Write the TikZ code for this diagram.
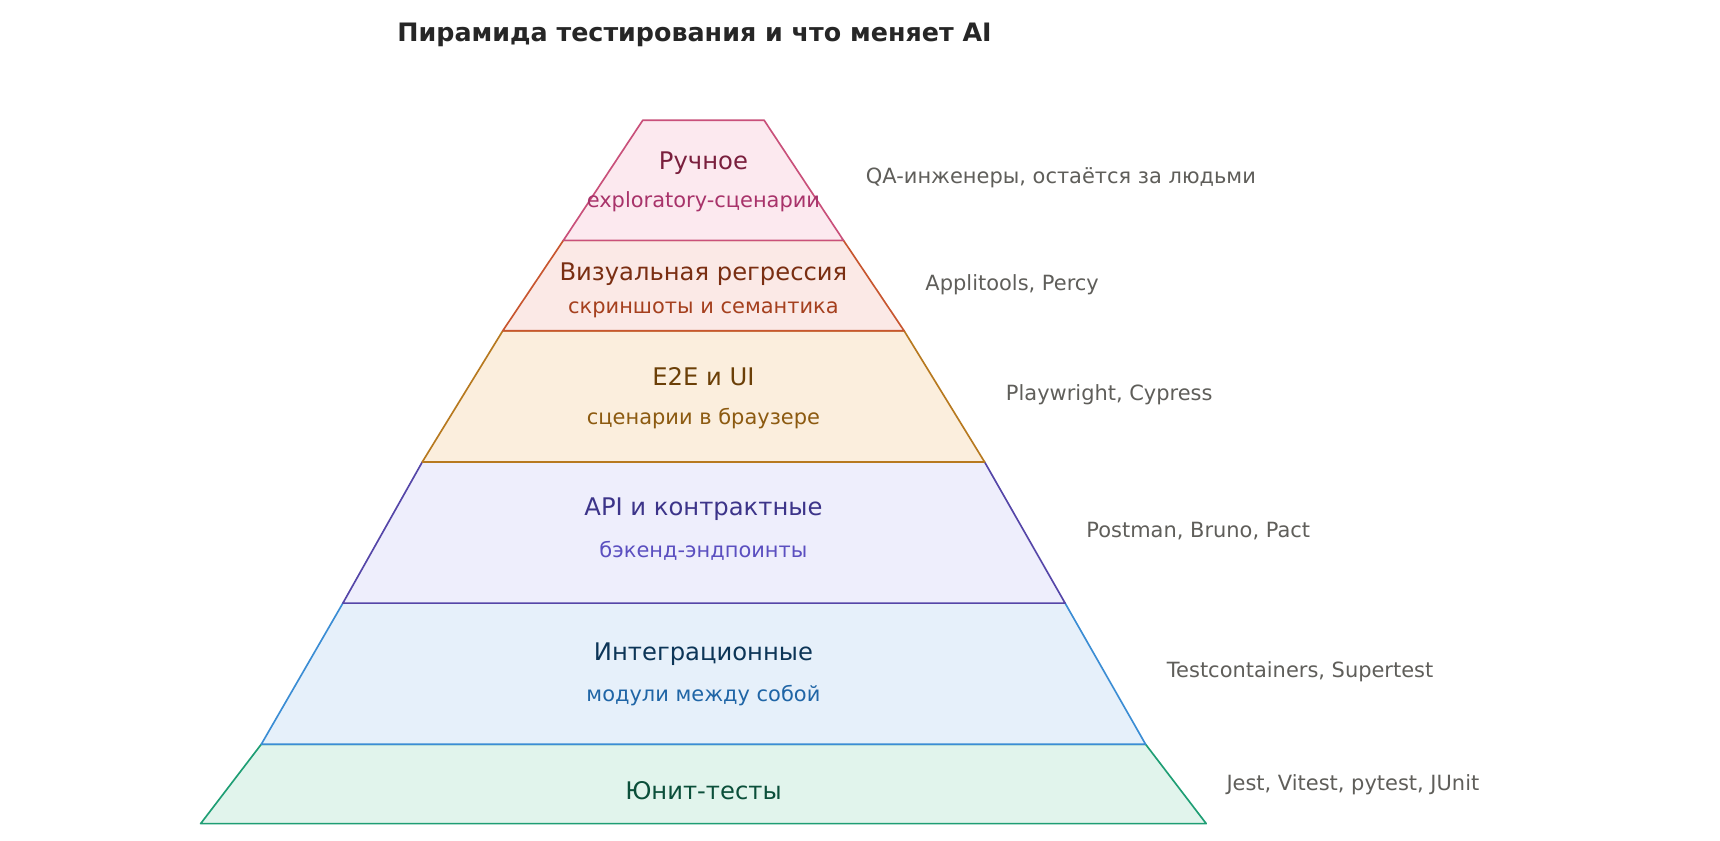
\documentclass[tikz,border=0pt]{standalone}
\usepackage{fontspec}
\setmainfont{DejaVu Sans}
\begin{document}
\begin{tikzpicture}[x=0.5pt,y=-0.5pt,
  ttl/.style={font=\fontsize{11}{13}\selectfont},
  sub/.style={font=\fontsize{9.5}{11}\selectfont},
  side/.style={font=\fontsize{9.5}{11}\selectfont,text=sidec,anchor=west,inner sep=0},
  lay/.style={line width=0.75pt, line join=round}]
\definecolor{sidec}{HTML}{5F5E5A}
\definecolor{f1}{HTML}{FCE9EF}\definecolor{s1}{HTML}{C9507A}\definecolor{t1}{HTML}{7A1F3D}\definecolor{u1}{HTML}{A8336A}
\definecolor{f2}{HTML}{FBE9E6}\definecolor{s2}{HTML}{C8562F}\definecolor{t2}{HTML}{7A2E12}\definecolor{u2}{HTML}{A5401E}
\definecolor{f3}{HTML}{FBEEDD}\definecolor{s3}{HTML}{B7791F}\definecolor{t3}{HTML}{6B3F07}\definecolor{u3}{HTML}{8C5A10}
\definecolor{f4}{HTML}{EEEEFC}\definecolor{s4}{HTML}{5546A8}\definecolor{t4}{HTML}{3C3489}\definecolor{u4}{HTML}{5B4FC0}
\definecolor{f5}{HTML}{E6F0FA}\definecolor{s5}{HTML}{3B8DD4}\definecolor{t5}{HTML}{0C3557}\definecolor{u5}{HTML}{1F65A6}
\definecolor{f6}{HTML}{E1F4EC}\definecolor{s6}{HTML}{1E9E74}\definecolor{t6}{HTML}{0B4F3A}
\useasboundingbox[fill=white] (0,0) rectangle (1560,762);
\node[font=\fontsize{11.5}{13}\selectfont\bfseries,text=black!85,anchor=west,inner sep=0] (title) at (360,32) {Пирамида тестирования и что меняет AI};
\draw[lay,fill=f6,draw=s6] (237,675)--(1039,675)--(1094,747)--(182,747)--cycle;
\draw[lay,fill=f5,draw=s5] (311,547)--(966,547)--(1039,675)--(237,675)--cycle;
\draw[lay,fill=f4,draw=s4] (383,419)--(893,419)--(966,547)--(311,547)--cycle;
\draw[lay,fill=f3,draw=s3] (456,300)--(820,300)--(893,419)--(383,419)--cycle;
\draw[lay,fill=f2,draw=s2] (511,218)--(765,218)--(820,300)--(456,300)--cycle;
\draw[lay,fill=f1,draw=s1] (583,109)--(693,109)--(765,218)--(511,218)--cycle;
\node[ttl,text=t1] (a1) at (638,148) {Ручное};
\node[sub,text=u1] (b1) at (638,183) {exploratory-сценарии};
\node[ttl,text=t2] (a2) at (638,249) {Визуальная регрессия};
\node[sub,text=u2] (b2) at (638,281) {скриншоты и семантика};
\node[ttl,text=t3] (a3) at (638,342) {E2E и UI};
\node[sub,text=u3] (b3) at (638,380) {сценарии в браузере};
\node[ttl,text=t4] (a4) at (638,462) {API и контрактные};
\node[sub,text=u4] (b4) at (638,500) {бэкенд-эндпоинты};
\node[ttl,text=t5] (a5) at (638,593) {Интеграционные};
\node[sub,text=u5] (b5) at (638,631) {модули между собой};
\node[ttl,text=t6] (a6) at (638,717) {Юнит-тесты};
\node[side] (c1) at (785,161) {QA-инженеры, остаётся за людьми};
\node[side] (c2) at (839,258) {Applitools, Percy};
\node[side] (c3) at (912,358) {Playwright, Cypress};
\node[side] (c4) at (985,482) {Postman, Bruno, Pact};
\node[side] (c5) at (1058,609) {Testcontainers, Supertest};
\node[side] (c6) at (1112,712) {Jest, Vitest, pytest, JUnit};
\end{tikzpicture}
\end{document}
